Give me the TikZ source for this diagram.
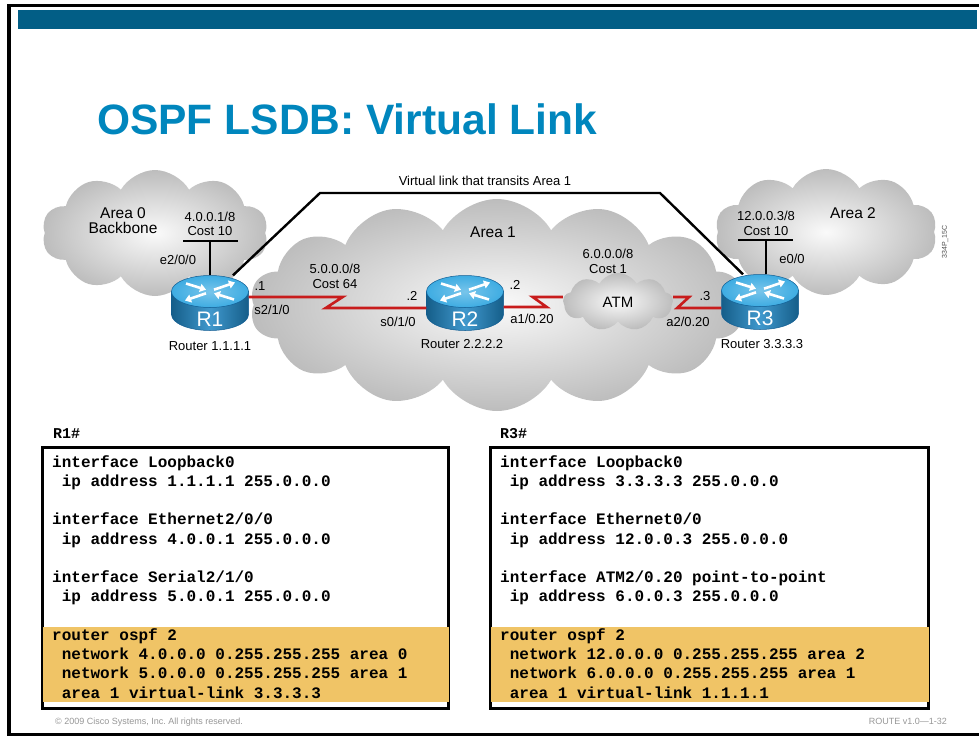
\documentclass[tikz,border=0pt]{standalone}
\usepackage{fontspec}
\setmainfont{Liberation Sans}
\setmonofont{Liberation Mono}
\usetikzlibrary{arrows.meta, shapes.symbols}
\definecolor{barBlue}{RGB}{2,94,134}
\definecolor{titleBlue}{RGB}{0,134,189}
\definecolor{rtTop}{RGB}{62,172,226}
\definecolor{rtSide}{RGB}{30,134,196}
\definecolor{rtEdge}{RGB}{16,92,146}
\definecolor{serialRed}{RGB}{200,28,28}
\definecolor{cfgHi}{RGB}{240,196,102}
\definecolor{footGray}{RGB}{150,150,150}
\frenchspacing

\begin{document}
\begin{tikzpicture}[x=1pt, y=1pt,
    lbl/.style={font=\fontsize{13}{14.5}\selectfont, inner sep=0pt, align=center},
    area/.style={font=\fontsize{15.5}{15}\selectfont, inner sep=0pt, align=center},
    cloudy/.style={cloud, cloud ignores aspect, cloud puff arc=120, inner color=black!2, outer color=black!26, inner sep=0pt},
    serial/.style={draw=serialRed, line width=2.6pt},
    wire/.style={draw=black, line width=2.4pt},
    rtarrow/.style={white, line width=2.6pt, -{Triangle[length=6pt, width=8pt]}},
    cfgbox/.style={rectangle, draw=black, line width=3pt, fill=white, inner sep=0pt},
    code/.style={font=\fontsize{16}{19}\selectfont\ttfamily\bfseries, anchor=base west, inner sep=0pt},
    prompt/.style={font=\fontsize{15}{15}\selectfont\ttfamily\bfseries, anchor=base west, inner sep=0pt},
    foot/.style={font=\fontsize{9}{9}\selectfont, text=footGray, anchor=base west, inner sep=0pt},
    pics/router/.style={code={
      \shadedraw[left color=rtSide!70!black, right color=rtSide!70!black, middle color=rtSide!85!white, draw=rtEdge, line width=0.5pt]
        (-38.5,11.5) -- (-38.5,-11.5) arc[start angle=180, end angle=360, x radius=38.5, y radius=16] -- (38.5,11.5) -- cycle;
      \shadedraw[inner color=rtTop!70!white, outer color=rtTop, draw=rtEdge, line width=0.5pt]
        (0,11.5) ellipse[x radius=38.5, y radius=16];
      \draw[rtarrow] (-24,19.5) -- (-4,13.3);
      \draw[rtarrow] (4,13.3) -- (25,20.5);
      \draw[rtarrow] (-4,9.7) -- (-25,2.5);
      \draw[rtarrow] (24,3.5) -- (4,9.7);
      \node[font=\fontsize{21}{21}\selectfont, text=white, inner sep=0pt] at (0,-16.5) {#1};
      \node[inner sep=0pt, minimum width=77pt, minimum height=55pt] (-body) at (0,0) {};
    }},
]
\useasboundingbox (0,0) rectangle (979,-736);

% frame, banner and heading
\draw[line width=3.5pt] (979,-5.5) -- (9,-5.5) -- (9,-734.5) -- (979,-734.5);
\fill[barBlue] (18,-10) rectangle (977,-29);
\node[font=\fontsize{42.5}{42.5}\selectfont\bfseries, text=titleBlue, anchor=base west, inner sep=0pt] (title) at (97,-134) {OSPF LSDB: Virtual Link};

% ---------- areas ----------
\node[cloudy, cloud puffs=10, minimum width=226pt, minimum height=126pt] (area0) at (155,-233) {};
\node[cloudy, cloud puffs=10, minimum width=222pt, minimum height=126pt] (area2) at (826,-232) {};
\node[cloudy, cloud puffs=14, minimum width=494pt, minimum height=212pt] (area1) at (497,-305) {};
\node[cloudy, cloud puffs=9, minimum width=110pt, minimum height=58pt, font=\fontsize{15}{15}\selectfont] (atm) at (618,-302) {ATM};

% ---------- routers ----------
\pic (r1) at (210,-303) {router=R1};
\pic (r2) at (465,-303) {router=R2};
\pic (r3) at (760,-302) {router=R3};

% ---------- links ----------
% virtual link over area 1
\draw[wire] ([xshift=23pt]r1-body.north) -- (320,-193) -- (660,-193) -- ([xshift=-17pt]r3-body.north);
% ethernet stubs
\draw[wire] (r1-body.north) -- ++(0,34.5) ++(-27,0) -- ++(55,0);
\draw[wire] ([xshift=6pt]r3-body.north) -- ++(0,34.5) ++(-28,0) -- ++(55,0);
% serial and ATM links
\draw[serial] ([yshift=6pt]r1-body.east) -- ++(94,0) -- ++(-17,-11) -- ([yshift=-5pt]r2-body.west);
\draw[serial] ([yshift=-4pt]r2-body.east) -- ++(43,0) -- ++(-14,10) -- ([yshift=5pt]atm.west);
\draw[serial] ([yshift=5pt]atm.east) -- ++(16,0) -- ++(-12,-11) -- ([yshift=-6pt]r3-body.west);

% ---------- labels ----------
\node[lbl] (vlbl) at (485,-181) {Virtual link that transits Area 1};
\node[area] (a0lbl) at (123,-220.5) {Area 0\\Backbone};
\node[area] (a1lbl) at (493,-232) {Area 1};
\node[area] (a2lbl) at (853,-213) {Area 2};
\node[lbl] (net4) at (210,-224) {4.0.0.1/8\\Cost 10};
\node[lbl] (e200) at (178,-260) {e2/0/0};
\node[lbl] (r1dot) at (260,-286) {.1};
\node[lbl] (s210) at (272,-310) {s2/1/0};
\node[lbl] (net5) at (335,-276.5) {5.0.0.0/8\\Cost 64};
\node[lbl] (r2dotl) at (412,-296) {.2};
\node[lbl] (s010) at (398,-322) {s0/1/0};
\node[lbl] (r2dotr) at (515,-285) {.2};
\node[lbl] (a1020) at (532,-319) {a1/0.20};
\node[lbl] (net6) at (608,-261.5) {6.0.0.0/8\\Cost 1};
\node[lbl] (r3dot) at (705,-296) {.3};
\node[lbl] (a2020) at (688,-322) {a2/0.20};
\node[lbl] (net12) at (766,-223.5) {12.0.0.3/8\\Cost 10};
\node[lbl] (e00) at (792,-259) {e0/0};
\node[lbl] (r1name) at (210,-346) {Router 1.1.1.1};
\node[lbl] (r2name) at (462,-344) {Router 2.2.2.2};
\node[lbl] (r3name) at (762,-344) {Router 3.3.3.3};
\node[font=\fontsize{7}{7}\selectfont, text=black!70, rotate=90, inner sep=0pt] (figid) at (945,-242) {334P\_15C};

% ---------- R1 config ----------
\node[prompt] (r1p) at (53,-438) {R1\#};
\node[cfgbox, minimum width=406pt, minimum height=261pt] (r1cfg) at (245.5,-578) {};
\fill[cfgHi] ([shift={(1.5pt,8pt)}]r1cfg.south west) rectangle ([shift={(-1.5pt,83pt)}]r1cfg.south east);
\node[code] (r1l1) at (52,-467) {interface Loopback0};
\node[code] (r1l2) at (52,-486.25) {~ip address 1.1.1.1 255.0.0.0};
\node[code] (r1l3) at (52,-524.75) {interface Ethernet2/0/0};
\node[code] (r1l4) at (52,-544) {~ip address 4.0.0.1 255.0.0.0};
\node[code] (r1l5) at (52,-582.5) {interface Serial2/1/0};
\node[code] (r1l6) at (52,-601.75) {~ip address 5.0.0.1 255.0.0.0};
\node[code] (r1l7) at (52,-640.25) {router ospf 2};
\node[code] (r1l8) at (52,-659.5) {~network 4.0.0.0 0.255.255.255 area 0};
\node[code] (r1l9) at (52,-678.75) {~network 5.0.0.0 0.255.255.255 area 1};
\node[code] (r1l10) at (52,-698) {~area 1 virtual-link 3.3.3.3};

% ---------- R3 config ----------
\node[prompt] (r3p) at (500,-438) {R3\#};
\node[cfgbox, minimum width=438pt, minimum height=261pt] (r3cfg) at (709.5,-578) {};
\fill[cfgHi] ([shift={(1.5pt,8pt)}]r3cfg.south west) rectangle ([shift={(-1.5pt,83pt)}]r3cfg.south east);
\node[code] (r3l1) at (500,-467) {interface Loopback0};
\node[code] (r3l2) at (500,-486.25) {~ip address 3.3.3.3 255.0.0.0};
\node[code] (r3l3) at (500,-524.75) {interface Ethernet0/0};
\node[code] (r3l4) at (500,-544) {~ip address 12.0.0.3 255.0.0.0};
\node[code] (r3l5) at (500,-582.5) {interface ATM2/0.20 point-to-point};
\node[code] (r3l6) at (500,-601.75) {~ip address 6.0.0.3 255.0.0.0};
\node[code] (r3l7) at (500,-640.25) {router ospf 2};
\node[code] (r3l8) at (500,-659.5) {~network 12.0.0.0 0.255.255.255 area 2};
\node[code] (r3l9) at (500,-678.75) {~network 6.0.0.0 0.255.255.255 area 1};
\node[code] (r3l10) at (500,-698) {~area 1 virtual-link 1.1.1.1};

% footer
\node[foot] (copy) at (55,-724) {© 2009 Cisco Systems, Inc. All rights reserved.};
\node[foot, anchor=base east] (course) at (947,-724) {ROUTE v1.0—1-32};
\end{tikzpicture}
\end{document}
